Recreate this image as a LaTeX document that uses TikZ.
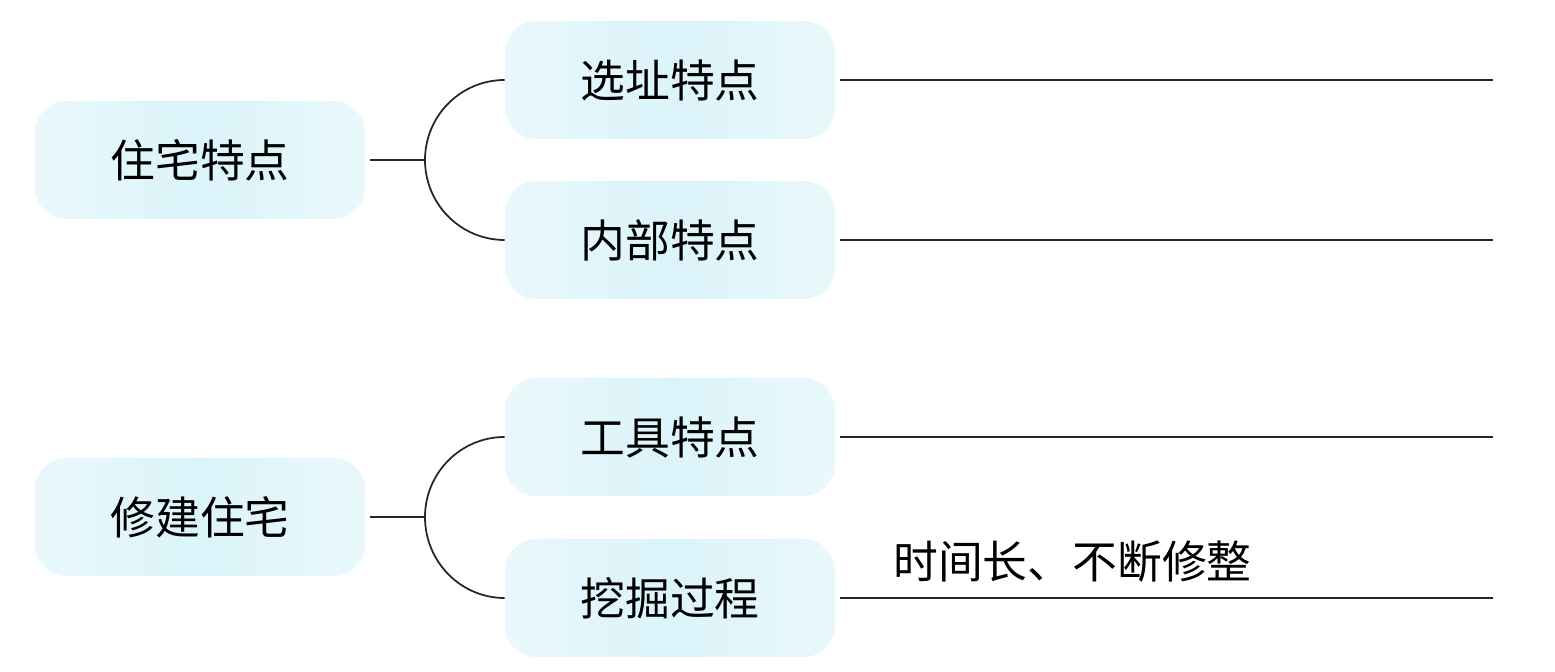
\documentclass[tikz,border=0pt]{standalone}
\usepackage{fontspec}
\newfontfamily\cjk{Noto Sans CJK SC}
\usepackage{tikz}
\usetikzlibrary{positioning}
\definecolor{boxcyan}{RGB}{233,248,251}
\definecolor{boxmid}{RGB}{219,244,250}

\begin{document}
\begin{tikzpicture}[
  x=0.02cm, y=0.02cm,
  box/.style={rounded corners=18pt, minimum width=#1*0.02cm, minimum height=118*0.02cm,
              left color=boxcyan, right color=boxcyan, middle color=boxmid,
              font=\cjk\fontsize{25.5}{30}\selectfont, align=center},
  note/.style={font=\cjk\fontsize{25.5}{30}\selectfont, anchor=west},
  conn/.style={line width=1pt, black!85}
]
\useasboundingbox (0,0) rectangle (1555,672);

%% Upper group: 住宅特点
\node[box=330] (zz) at (200,512) {住宅特点};
\node[box=330] (xz) at (670,592) {选址特点};
\node[box=330] (nb) at (670,432) {内部特点};

%% Lower group: 修建住宅
\node[box=330] (xj) at (200,155) {修建住宅};
\node[box=330] (gj) at (670,235) {工具特点};
\node[box=330] (wj) at (670,74) {挖掘过程};

%% Bracket junctions
\coordinate (zzj) at (425,512);
\coordinate (xjj) at (425,155);

\draw[conn] ([xshift=5*0.02cm]zz.east) -- (zzj);
\draw[conn] (xz.west) to[out=180,in=90] (zzj) to[out=-90,in=180] (nb.west);
\draw[conn] ([xshift=5*0.02cm]xj.east) -- (xjj);
\draw[conn] (gj.west) to[out=180,in=90] (xjj) to[out=-90,in=180] (wj.west);

%% Answer lines
\coordinate (xzr) at (1493,592);
\coordinate (nbr) at (1493,432);
\coordinate (gjr) at (1493,235);
\coordinate (wjr) at (1493,74);
\draw[conn] ([xshift=5*0.02cm]xz.east) -- (xzr);
\draw[conn] ([xshift=5*0.02cm]nb.east) -- (nbr);
\draw[conn] ([xshift=5*0.02cm]gj.east) -- (gjr);
\draw[conn] ([xshift=5*0.02cm]wj.east) -- (wjr);

%% Filled-in answer
\node[note] (ans) at (887,110) {时间长、不断修整};

\end{tikzpicture}
\end{document}
